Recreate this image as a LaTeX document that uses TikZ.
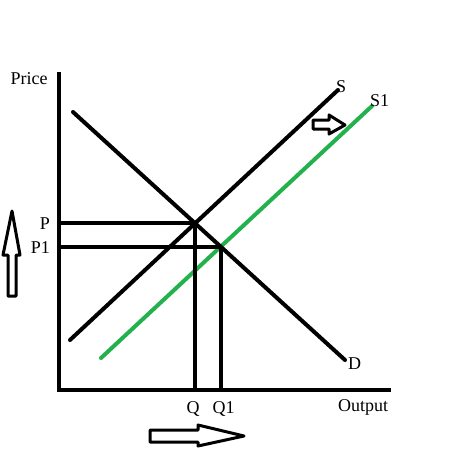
\documentclass[tikz,border=0pt]{standalone}
\usepackage{fontspec}
\setmainfont{Liberation Serif}
\usetikzlibrary{intersections}
\definecolor{shiftgreen}{HTML}{22B14C}

\tikzset{
  axisline/.style={line width=4pt, black},
  curveline/.style={line width=4pt, line cap=round},
  guideline/.style={line width=4pt, black},
  hollowarrow/.style={draw=black, fill=white, line width=3pt, line join=round},
  lbl/.style={inner sep=0pt, font=\fontsize{18}{20}\selectfont}
}

\begin{document}
\begin{tikzpicture}[x=1pt, y=-1pt]
  \useasboundingbox (0,0) rectangle (451,463);
  % Ejes
  \coordinate (origin) at (59,390);
  \coordinate (ytop) at (59,72);
  \coordinate (xend) at (391,390);
  \draw[axisline] (ytop) -- (origin) -- (xend);
  \node[lbl, anchor=base] (price) at (29,84) {Price};
  \node[lbl, anchor=base west] (output) at (338,411) {Output};

  % Oferta, oferta desplazada y demanda
  \coordinate (s0) at (70,340);
  \coordinate (s1) at (338,90);
  \coordinate (g0) at (101,358);
  \coordinate (g1) at (372,106);
  \coordinate (d0) at (73,112);
  \coordinate (d1) at (345,360);
  \draw[curveline, name path=supply] (s0) -- (s1);
  \draw[curveline, shiftgreen, name path=supplynew] (g0) -- (g1);
  \draw[curveline, name path=demand] (d0) -- (d1);
  \node[lbl, anchor=base west] (slbl) at (336,92) {S};
  \node[lbl, anchor=base west] (s1lbl) at (370,106) {S1};
  \node[lbl, anchor=base west] (dlbl) at (348,369) {D};

  % Equilibrios
  \path[name intersections={of=supply and demand, by=eq}];
  \path[name intersections={of=supplynew and demand, by=eqnew}];
  \draw[guideline] (eq) -- (eq -| origin);
  \draw[guideline] (eq) -- (eq |- origin);
  \draw[guideline] (eqnew) -- (eqnew -| origin);
  \draw[guideline] (eqnew) -- (eqnew |- origin);
  \node[lbl, anchor=base east] (plbl) at ([yshift=-6pt]eq -| 50,0) {P};
  \node[lbl, anchor=base east] (p1lbl) at ([yshift=-7pt]eqnew -| 50,0) {P1};
  \node[lbl, anchor=base] (qlbl) at ([xshift=-2pt, yshift=-23pt]eq |- origin) {Q};
  \node[lbl, anchor=base] (q1lbl) at ([xshift=3pt, yshift=-23pt]eqnew |- origin) {Q1};

  % Flechas huecas
  \draw[hollowarrow] (8,296) -- (8,255) -- (3,255) -- (12,211) -- (20,255)
    -- (16,255) -- (16,296) -- cycle;
  \draw[hollowarrow] (150,430) -- (198,430) -- (198,425) -- (244,436)
    -- (198,446) -- (198,442) -- (150,442) -- cycle;
  \draw[hollowarrow] (313,120) -- (329,120) -- (329,115) -- (345,125)
    -- (329,134) -- (329,129) -- (313,129) -- cycle;
\end{tikzpicture}
\end{document}
